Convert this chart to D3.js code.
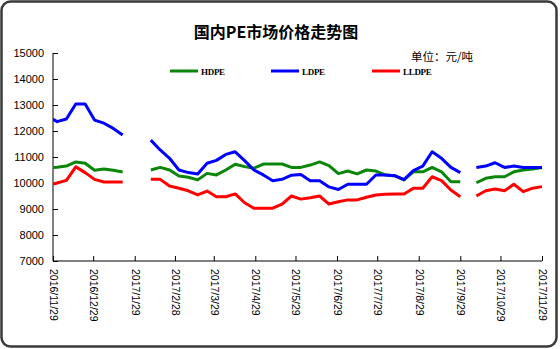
<!DOCTYPE html>
<html><head><meta charset="utf-8">
<script src="https://cdn.jsdelivr.net/npm/d3@7"></script>
<style>html,body{margin:0;padding:0;background:#fff;}svg{display:block;}</style>
</head><body>
<script>
const dates = [
 "2016-11-29","2016-12-02","2016-12-09","2016-12-16","2016-12-23","2016-12-30","2017-01-06","2017-01-13","2017-01-20","2017-01-27",
 "2017-02-10","2017-02-17","2017-02-24","2017-03-03","2017-03-10","2017-03-17","2017-03-24","2017-03-31",
 "2017-04-07","2017-04-14","2017-04-21","2017-04-28","2017-05-05","2017-05-12","2017-05-19","2017-05-26",
 "2017-06-02","2017-06-09","2017-06-16","2017-06-23","2017-06-30","2017-07-07","2017-07-14","2017-07-21","2017-07-28",
 "2017-08-04","2017-08-11","2017-08-18","2017-08-25","2017-09-01","2017-09-08","2017-09-15","2017-09-22","2017-09-29","2017-10-04",
 "2017-10-11","2017-10-18","2017-10-25","2017-11-01","2017-11-08","2017-11-15","2017-11-22","2017-11-29"
];
const hdpe = [10600,10610,10650,10810,10760,10490,10540,10490,10420,null,
 10500,10600,10500,10270,10220,10120,10370,10310,10500,10720,10630,10570,10730,10730,10730,10600,10600,10690,10810,10670,10360,10460,10350,10500,10460,10310,10280,10120,10430,10430,10600,10430,10050,10050,null,
 10010,10180,10240,10240,10430,10500,10540,10600];
const ldpe = [12450,12360,12460,13040,13040,12420,12300,12100,11850,null,
 11650,11270,10950,10500,10400,10350,10760,10870,11100,11200,10860,10500,10310,10090,10140,10300,10330,10090,10090,9850,9750,9950,9950,9950,10310,10310,10280,10130,10480,10650,11200,10950,10600,10400,null,
 10600,10650,10780,10600,10650,10600,10600,10600];
const lldpe = [9960,10000,10100,10620,10400,10140,10040,10040,10040,null,
 10140,10140,9885,9800,9700,9540,9690,9470,9470,9580,9240,9030,9030,9030,9190,9500,9380,9430,9500,9190,9280,9350,9350,9450,9540,9570,9580,9580,9800,9800,10240,10090,9730,9470,null,
 9500,9700,9770,9700,9950,9670,9800,9860];
const seriesNames = ["HDPE","LDPE","LLDPE"];
const seriesColors = ["#0a870a","#0000ff","#ff0000"];
const xTickDates = ["2016-11-29","2016-12-29","2017-01-29","2017-02-28","2017-03-29","2017-04-29","2017-05-29","2017-06-29","2017-07-29","2017-08-29","2017-09-29","2017-10-29","2017-11-29"];
const yTicks = [7000,8000,9000,10000,11000,12000,13000,14000,15000];
const title = "国内PE市场价格走势图";
const unitLabel = "单位：元/吨";

const W = 560, H = 349;
const parse = d3.timeParse("%Y-%m-%d");
const fmt = d3.timeFormat("%Y/%-m/%-d");
const svg = d3.select("body").append("svg").attr("width", W).attr("height", H);

svg.append("rect").attr("x",1.5).attr("y",1.5).attr("width",555).attr("height",345)
  .attr("rx",9).attr("fill","#fff").attr("stroke","#3a3a3a").attr("stroke-width",2.5);

const x = d3.scaleTime().domain([parse("2016-11-29"), parse("2017-11-29")]).range([53, 542]);
const y = d3.scaleLinear().domain([7000, 15000]).range([261, 53]);

svg.append("text").attr("x", 276).attr("y", 38).attr("text-anchor","middle")
  .attr("font-family","'Noto Sans CJK SC', sans-serif").attr("font-weight","bold")
  .attr("font-size",16).text(title);
svg.append("text").attr("x", 411).attr("y", 61)
  .attr("font-family","'Noto Sans CJK SC', sans-serif")
  .attr("font-size",11.5).text(unitLabel);

// legend
const legX = [170, 271, 372];
seriesNames.forEach((n,i)=>{
  svg.append("line").attr("x1",legX[i]).attr("x2",legX[i]+28).attr("y1",71).attr("y2",71)
    .attr("stroke",seriesColors[i]).attr("stroke-width",3);
  svg.append("text").attr("x",legX[i]+31).attr("y",74.5)
    .attr("font-family","'Liberation Serif', serif").attr("font-weight","bold")
    .attr("font-size",9).attr("letter-spacing",-0.3).text(n);
});

// axes
const yAxis = svg.append("g").attr("transform","translate(53,0)")
  .call(d3.axisLeft(y).tickValues(yTicks).tickSize(-5).tickPadding(9).tickFormat(d3.format("d")));
yAxis.selectAll("text").attr("font-family","'Liberation Sans', Arial, sans-serif").attr("font-size",11).attr("fill","#000");
yAxis.selectAll("path,line").attr("stroke","#000");
yAxis.select(".domain").attr("d","M0,53V261");

const xAxis = svg.append("g").attr("transform","translate(0,261)")
  .call(d3.axisBottom(x).tickValues(xTickDates.map(parse)).tickSize(-5).tickFormat(fmt));
xAxis.select(".domain").attr("d","M53,0H542");
xAxis.selectAll("path,line").attr("stroke","#000");
xAxis.selectAll("text")
  .attr("font-family","'Liberation Sans', Arial, sans-serif").attr("font-size",10.5).attr("fill","#000")
  .attr("text-anchor","start").attr("transform","rotate(90)")
  .attr("x",8).attr("y",0).attr("dy","0.35em");

// lines
const clip = svg.append("clipPath").attr("id","plot").append("rect")
  .attr("x",53).attr("y",40).attr("width",500).attr("height",230);
[hdpe, ldpe, lldpe].forEach((vals,i)=>{
  const data = dates.map((d,k)=>({d:parse(d), v:vals[k]}));
  const line = d3.line().defined(p=>p.v!=null).x(p=>x(p.d)).y(p=>y(p.v));
  svg.append("path").datum(data).attr("d",line).attr("fill","none")
    .attr("stroke",seriesColors[i]).attr("stroke-width",3)
    .attr("stroke-linejoin","round").attr("clip-path","url(#plot)");
});
</script>
</body></html>
